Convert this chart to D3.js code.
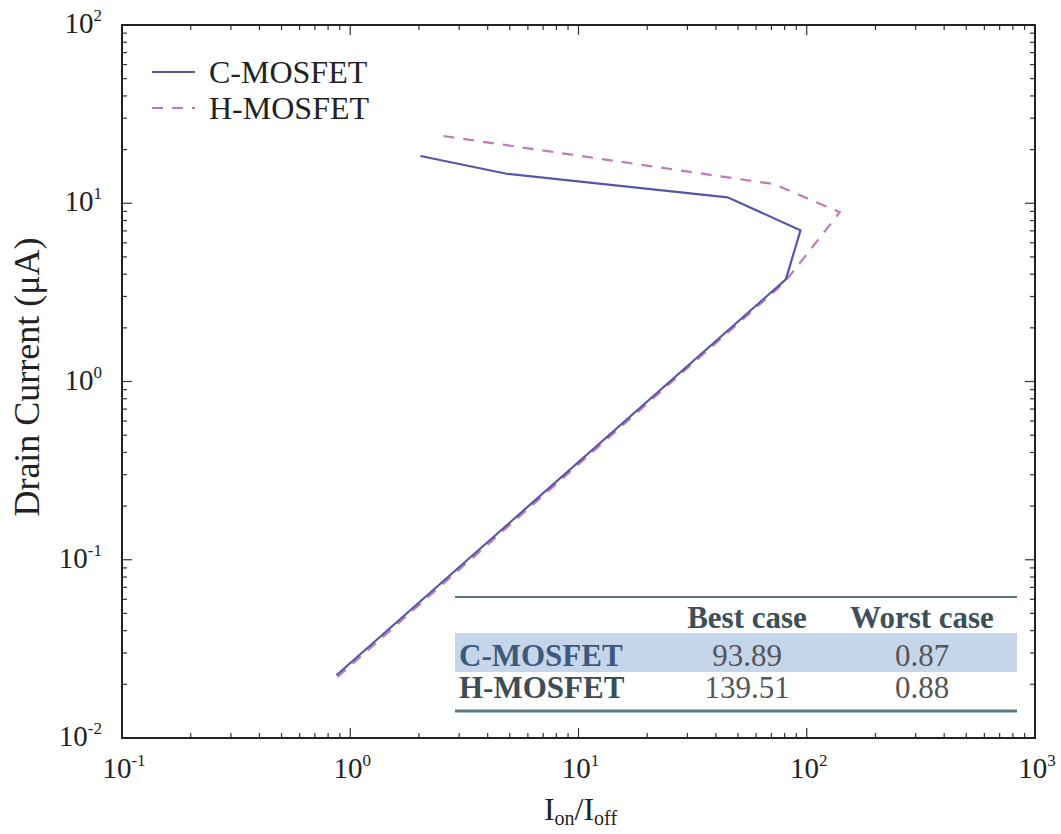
<!DOCTYPE html>
<html>
<head>
<meta charset="utf-8">
<script src="https://cdnjs.cloudflare.com/ajax/libs/d3/7.8.5/d3.min.js"></script>
<style>
    body { margin: 0; background: #fff; }
</style>
</head>
<body>
<script>

// C-MOSFET curve (Ion/Ioff vs drain current)
var cRatio   = [0.87, 81, 93.89, 45, 4.9, 2.03];
var cCurrent = [0.0225, 3.74, 7.05, 10.8, 14.6, 18.4];

// H-MOSFET curve
var hRatio   = [0.88, 80, 139.51, 72, 2.41];
var hCurrent = [0.022, 3.6, 8.9, 12.8, 24.1];

var seriesNames = ["C-MOSFET", "H-MOSFET"];

var decadeExp = [-1, 0, 1, 2, 3];
var yDecadeExp = [-2, -1, 0, 1, 2];

var tableHead = ["", "Best case", "Worst case"];
var tableRows = ["C-MOSFET", "H-MOSFET"];
var bestCase = ["93.89", "139.51"];
var worstCase = ["0.87", "0.88"];

var width = 1061,
    height = 834,
    margin = {left: 122, right: 26, top: 25, bottom: 96};

var serif = "'Liberation Serif', 'DejaVu Serif', 'Times New Roman', serif";

var svg = d3.select("body")
    .append("svg")
    .attr("width", width)
    .attr("height", height)
    .attr("font-family", serif)
    .style("font-family", serif);

var x = d3.scaleLog()
    .domain([0.1, 1000])
    .range([margin.left, width - margin.right]);

var y = d3.scaleLog()
    .domain([0.01, 100])
    .range([height - margin.bottom, margin.top]);

var x0 = x.range()[0], x1 = x.range()[1],
    y0 = y.range()[0], y1 = y.range()[1];

// minor + major ticks (inward on all four sides)
function ticksFor(scale) {
    var out = [];
    var dom = scale.domain();
    var lo = Math.round(Math.log10(dom[0])), hi = Math.round(Math.log10(dom[1]));
    for (var e = lo; e <= hi; e++) {
        for (var k = 1; k <= 9; k++) {
            var v = k * Math.pow(10, e);
            if (v > dom[1] * 1.0001) break;
            out.push({v: v, major: k === 1});
        }
    }
    return out;
}

var tickG = svg.append("g").attr("stroke", "#333").attr("stroke-width", 1.2);

ticksFor(x).forEach(function (t) {
    var len = t.major ? 10 : 5;
    tickG.append("line").attr("x1", x(t.v)).attr("x2", x(t.v)).attr("y1", y0).attr("y2", y0 - len);
    tickG.append("line").attr("x1", x(t.v)).attr("x2", x(t.v)).attr("y1", y1).attr("y2", y1 + len);
});
ticksFor(y).forEach(function (t) {
    var len = t.major ? 10 : 5;
    tickG.append("line").attr("y1", y(t.v)).attr("y2", y(t.v)).attr("x1", x0).attr("x2", x0 + len);
    tickG.append("line").attr("y1", y(t.v)).attr("y2", y(t.v)).attr("x1", x1).attr("x2", x1 - len);
});

// frame
svg.append("rect")
    .attr("x", x0).attr("y", y1)
    .attr("width", x1 - x0).attr("height", y0 - y1)
    .attr("fill", "none")
    .attr("stroke", "#222")
    .attr("stroke-width", 2);

// tick labels
var xl = svg.append("g").attr("fill", "#222");
decadeExp.forEach(function (e) {
    var t = xl.append("text")
        .attr("x", x(Math.pow(10, e)) + 2)
        .attr("y", y0 + 40)
        .attr("text-anchor", "middle")
        .attr("font-size", 29);
    t.append("tspan").text("10");
    t.append("tspan").attr("dy", -12).attr("font-size", 17).text(e);
});

var yl = svg.append("g").attr("fill", "#222");
yDecadeExp.forEach(function (e) {
    var t = yl.append("text")
        .attr("x", x0 - 20)
        .attr("y", y(Math.pow(10, e)) + 8)
        .attr("text-anchor", "end")
        .attr("font-size", 29);
    t.append("tspan").text("10");
    t.append("tspan").attr("dy", -12).attr("font-size", 17).text(e);
});

// axis titles
var xt = svg.append("text")
    .attr("x", (x0 + x1) / 2 + 2)
    .attr("y", height - 14)
    .attr("text-anchor", "middle")
    .attr("font-size", 32)
    .attr("fill", "#222");
xt.append("tspan").text("I");
xt.append("tspan").attr("dy", 5).attr("font-size", 20).text("on");
xt.append("tspan").attr("dy", -5).text("/I");
xt.append("tspan").attr("dy", 5).attr("font-size", 20).text("off");

svg.append("text")
    .attr("transform", "translate(" + [39, 377] + ")rotate(-90)")
    .attr("text-anchor", "middle")
    .attr("font-size", 36)
    .attr("fill", "#222")
    .text("Drain Current (\u03bcA)");

// lines
var line = d3.line()
    .x(function (d) { return x(d[0]); })
    .y(function (d) { return y(d[1]); });

var cData = d3.zip(cRatio, cCurrent);
var hData = d3.zip(hRatio, hCurrent);

svg.append("path")
    .attr("d", line(hData))
    .attr("fill", "none")
    .attr("stroke", "#c07ab6")
    .attr("stroke-width", 2.2)
    .attr("stroke-dasharray", "11,9");

svg.append("path")
    .attr("d", line(cData))
    .attr("fill", "none")
    .attr("stroke", "#5656a8")
    .attr("stroke-width", 2.2);

// legend
var leg = svg.append("g");
leg.append("line").attr("x1", 152).attr("x2", 195).attr("y1", 72).attr("y2", 72)
    .attr("stroke", "#5656a8").attr("stroke-width", 2.2);
leg.append("line").attr("x1", 152).attr("x2", 195).attr("y1", 108).attr("y2", 108)
    .attr("stroke", "#c07ab6").attr("stroke-width", 2.2).attr("stroke-dasharray", "11,9");
seriesNames.forEach(function (s, i) {
    leg.append("text")
        .attr("x", 209)
        .attr("y", 83 + i * 36)
        .attr("font-size", 32)
        .attr("fill", "#222")
        .text(s);
});

// inset table
var tb = {left: 455, right: 1017, top: 597, bottom: 711};
var colX = [459, 747, 922];
var tg = svg.append("g");

tg.append("rect")
    .attr("x", tb.left).attr("y", 633)
    .attr("width", tb.right - tb.left).attr("height", 39)
    .attr("fill", "#c6d6ea");

tg.append("line").attr("x1", tb.left).attr("x2", tb.right).attr("y1", tb.top).attr("y2", tb.top)
    .attr("stroke", "#587880").attr("stroke-width", 2);
tg.append("line").attr("x1", tb.left).attr("x2", tb.right).attr("y1", tb.bottom).attr("y2", tb.bottom)
    .attr("stroke", "#587880").attr("stroke-width", 3);

tableHead.forEach(function (h, i) {
    if (!h) return;
    tg.append("text")
        .attr("x", colX[i]).attr("y", 628)
        .attr("text-anchor", "middle")
        .attr("font-size", 31)
        .attr("font-weight", "bold")
        .attr("fill", "#3d4f5a")
        .text(h);
});

tableRows.forEach(function (r, i) {
    var yy = 666 + i * 32;
    tg.append("text")
        .attr("x", colX[0]).attr("y", yy)
        .attr("font-size", 31)
        .attr("font-weight", "bold")
        .attr("fill", i === 0 ? "#3c5a80" : "#3d4d55")
        .text(r);
    tg.append("text")
        .attr("x", colX[1]).attr("y", yy)
        .attr("text-anchor", "middle")
        .attr("font-size", 31)
        .attr("fill", "#555")
        .text(bestCase[i]);
    tg.append("text")
        .attr("x", colX[2]).attr("y", yy)
        .attr("text-anchor", "middle")
        .attr("font-size", 31)
        .attr("fill", "#555")
        .text(worstCase[i]);
});

</script>
</body>
</html>
